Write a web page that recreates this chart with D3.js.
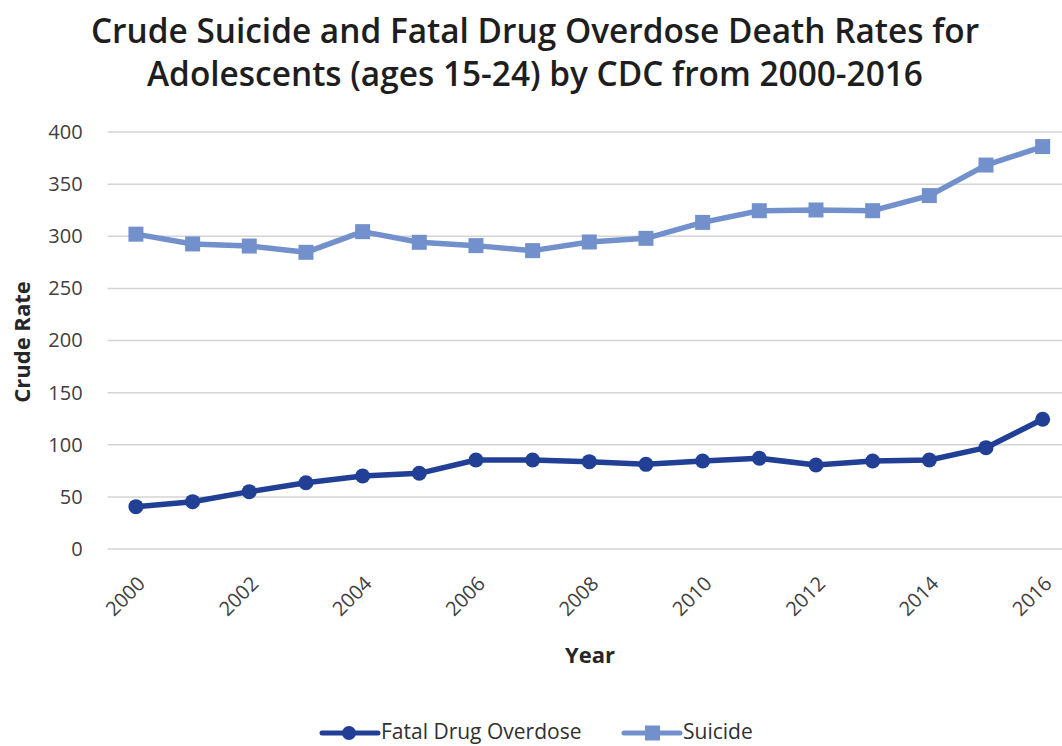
<!DOCTYPE html>
<html>
<head>
<meta charset="utf-8">
<script src="https://cdn.jsdelivr.net/npm/d3@7"></script>
<style>
  body { margin: 0; background: #fff; }
  svg { font-family: "Open Sans", "Noto Sans", sans-serif; }
</style>
</head>
<body>
<svg id="chart" width="1062" height="746"></svg>
<script>
// Data
const years = ["2000","2001","2002","2003","2004","2005","2006","2007","2008",
               "2009","2010","2011","2012","2013","2014","2015","2016"];
const overdose = [40.6, 45.4, 55, 63.6, 70, 72.6, 85.4, 85.4, 83.8,
                  81.2, 84.4, 87, 80.6, 84.4, 85.4, 97.2, 124.4];
const suicide = [302, 292.6, 290.6, 284.6, 304.4, 294.2, 291, 286.2, 294.5,
                 298, 313.3, 324.5, 325.2, 324.5, 339, 368.3, 386];
const yTicks = [0, 50, 100, 150, 200, 250, 300, 350, 400];
const xLabels = ["2000","2002","2004","2006","2008","2010","2012","2014","2016"];

const titleLines = ["Crude Suicide and Fatal Drug Overdose Death Rates for",
                    "Adolescents (ages 15-24) by CDC from 2000-2016"];

const colors = { overdose: "#213f94", suicide: "#7290cb" };

const svg = d3.select("#chart");
const plotLeft = 107.6, plotRight = 1071, plotTop = 132, plotBottom = 549;

// Scales
const x = d3.scalePoint().domain(years).range([plotLeft, plotRight]).padding(0.5);
const y = d3.scaleLinear().domain([0, 400]).range([plotBottom, plotTop]);

// Title
svg.append("g").selectAll("text")
    .data(titleLines)
    .join("text")
    .attr("x", 535)
    .attr("y", (d, i) => 43 + i * 43)
    .attr("text-anchor", "middle")
    .attr("font-size", 33.4)
    .attr("font-weight", 600)
    .attr("fill", "#1e1e1e")
    .text(d => d);

// Gridlines
svg.append("g").selectAll("line")
    .data(yTicks)
    .join("line")
    .attr("x1", plotLeft).attr("x2", plotRight)
    .attr("y1", d => y(d)).attr("y2", d => y(d))
    .attr("stroke", "#d4d4d4")
    .attr("stroke-width", 1.5);

// Y axis
const yAxis = svg.append("g")
    .attr("transform", `translate(${plotLeft},0)`)
    .call(d3.axisLeft(y).tickValues(yTicks).tickSize(0).tickPadding(25));
yAxis.select(".domain").remove();
yAxis.selectAll("text")
    .attr("font-family", "'Open Sans', sans-serif")
    .attr("font-size", 20)
    .attr("fill", "#404040");

// X axis labels (every other year)
const xAxis = svg.append("g")
    .attr("transform", `translate(0,${plotBottom})`)
    .call(d3.axisBottom(x).tickValues(xLabels).tickSize(0).tickPadding(0));
xAxis.select(".domain").remove();
xAxis.selectAll("text")
    .attr("font-family", "'Open Sans', sans-serif")
    .attr("font-size", 20)
    .attr("fill", "#404040")
    .attr("text-anchor", "end")
    .attr("dy", 0)
    .attr("transform", "translate(10,36) rotate(-45)");

// Axis titles
svg.append("text")
    .attr("x", 590).attr("y", 663)
    .attr("text-anchor", "middle")
    .attr("font-size", 22)
    .attr("font-weight", 700)
    .attr("fill", "#262626")
    .text("Year");

svg.append("text")
    .attr("transform", `translate(30,342) rotate(-90)`)
    .attr("text-anchor", "middle")
    .attr("font-size", 22)
    .attr("font-weight", 700)
    .attr("fill", "#262626")
    .text("Crude Rate");

// Lines
const line = d3.line().x((d, i) => x(years[i])).y(d => y(d));

svg.append("path")
    .datum(suicide)
    .attr("d", line)
    .attr("fill", "none")
    .attr("stroke", colors.suicide)
    .attr("stroke-width", 5.5)
    .attr("stroke-linejoin", "round");

svg.append("g").selectAll("rect")
    .data(suicide)
    .join("rect")
    .attr("x", (d, i) => x(years[i]) - 7.5)
    .attr("y", d => y(d) - 7.5)
    .attr("width", 15).attr("height", 15)
    .attr("fill", colors.suicide);

svg.append("path")
    .datum(overdose)
    .attr("d", line)
    .attr("fill", "none")
    .attr("stroke", colors.overdose)
    .attr("stroke-width", 5.5)
    .attr("stroke-linejoin", "round");

svg.append("g").selectAll("circle")
    .data(overdose)
    .join("circle")
    .attr("cx", (d, i) => x(years[i]))
    .attr("cy", d => y(d))
    .attr("r", 7.5)
    .attr("fill", colors.overdose);

// Legend
const legend = [
  { name: "Fatal Drug Overdose", color: colors.overdose, shape: "circle", x: 322 },
  { name: "Suicide", color: colors.suicide, shape: "rect", x: 624 }
];
const ly = 733;
const items = svg.append("g").selectAll("g")
    .data(legend)
    .join("g")
    .attr("transform", d => `translate(${d.x},${ly})`);

items.append("line")
    .attr("x1", 0).attr("x2", 56)
    .attr("stroke", d => d.color)
    .attr("stroke-width", 5)
    .attr("stroke-linecap", "round");

items.filter(d => d.shape === "circle").append("circle")
    .attr("cx", 27).attr("r", 7)
    .attr("fill", d => d.color);

items.filter(d => d.shape === "rect").append("rect")
    .attr("x", 21).attr("y", -7.5)
    .attr("width", 15).attr("height", 15)
    .attr("fill", d => d.color);

items.append("text")
    .attr("x", 59).attr("y", 6)
    .attr("font-size", 21)
    .attr("fill", "#303030")
    .text(d => d.name);
</script>
</body>
</html>
